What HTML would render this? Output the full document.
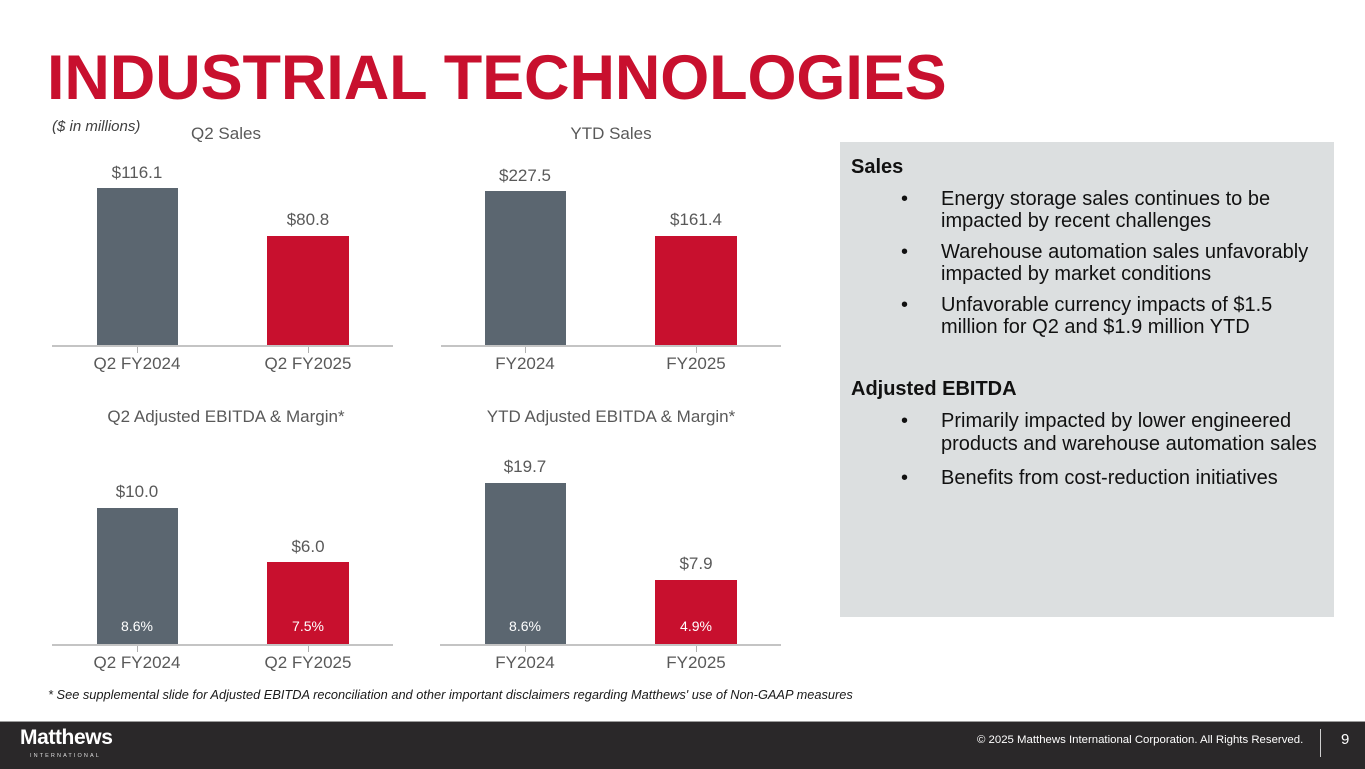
<!DOCTYPE html>
<html>
<head>
<meta charset="utf-8">
<style>
  html,body{margin:0;padding:0;}
  body{width:1365px;height:769px;position:relative;overflow:hidden;background:#fff;font-family:"Liberation Sans",Arial,sans-serif;}
  .a{position:absolute;}
  .t{position:absolute;white-space:nowrap;text-align:center;}
  .title{position:absolute;left:47px;top:47px;font-size:63px;line-height:62px;font-weight:bold;color:#C8102E;white-space:nowrap;letter-spacing:-0.1px;}
  .ct{font-size:17px;line-height:20px;color:#595959;width:300px;}
  .val{font-size:17px;line-height:20px;color:#595959;width:120px;}
  .xl{font-size:17px;line-height:20px;color:#595959;width:140px;}
  .pct{font-size:14px;line-height:18px;color:#fff;width:80px;}
  .bar{position:absolute;}
  .g{background:#5B6670;}
  .r{background:#C8102E;}
  .axis{position:absolute;height:2px;background:#C4C4C4;}
  .tick{position:absolute;width:1px;height:6px;background:#B0B0B0;}
  .panel{position:absolute;left:840px;top:142px;width:494px;height:475px;background:#DCDFE0;}
  .hd{position:absolute;left:851px;font-size:20px;font-weight:bold;line-height:22px;color:#111;white-space:nowrap;}
  .bl{position:absolute;left:901px;font-size:20px;line-height:22px;color:#111;white-space:nowrap;}
  .bl .d{position:absolute;left:0;top:0;}
  .bl .tx{position:absolute;left:40px;top:0;}
</style>
</head>
<body>
<div class="title">INDUSTRIAL TECHNOLOGIES</div>
<div class="a" style="left:52px;top:117px;font-size:15px;line-height:20px;font-style:italic;color:#404040;white-space:nowrap;">($ in millions)</div>

<!-- Top left: Q2 Sales -->
<div class="t ct" style="left:76px;top:124px;">Q2 Sales</div>
<div class="bar g" style="left:97px;top:188px;width:81px;height:158px;"></div>
<div class="bar r" style="left:267px;top:236px;width:82px;height:110px;"></div>
<div class="axis" style="left:52px;top:345px;width:341px;"></div>
<div class="tick" style="left:137px;top:347px;"></div>
<div class="tick" style="left:308px;top:347px;"></div>
<div class="t val" style="left:77px;top:163px;">$116.1</div>
<div class="t val" style="left:248px;top:210px;">$80.8</div>
<div class="t xl" style="left:67px;top:354px;">Q2 FY2024</div>
<div class="t xl" style="left:238px;top:354px;">Q2 FY2025</div>

<!-- Top right: YTD Sales -->
<div class="t ct" style="left:461px;top:124px;">YTD Sales</div>
<div class="bar g" style="left:485px;top:191px;width:81px;height:155px;"></div>
<div class="bar r" style="left:655px;top:236px;width:82px;height:110px;"></div>
<div class="axis" style="left:441px;top:345px;width:340px;"></div>
<div class="tick" style="left:525px;top:347px;"></div>
<div class="tick" style="left:696px;top:347px;"></div>
<div class="t val" style="left:465px;top:166px;">$227.5</div>
<div class="t val" style="left:636px;top:210px;">$161.4</div>
<div class="t xl" style="left:455px;top:354px;">FY2024</div>
<div class="t xl" style="left:626px;top:354px;">FY2025</div>

<!-- Bottom left: Q2 EBITDA -->
<div class="t ct" style="left:76px;top:407px;">Q2 Adjusted EBITDA &amp; Margin*</div>
<div class="bar g" style="left:97px;top:508px;width:81px;height:136px;"></div>
<div class="bar r" style="left:267px;top:562px;width:82px;height:82px;"></div>
<div class="axis" style="left:52px;top:644px;width:341px;"></div>
<div class="tick" style="left:137px;top:646px;"></div>
<div class="tick" style="left:308px;top:646px;"></div>
<div class="t val" style="left:77px;top:482px;">$10.0</div>
<div class="t val" style="left:248px;top:537px;">$6.0</div>
<div class="t pct" style="left:97px;top:617px;">8.6%</div>
<div class="t pct" style="left:268px;top:617px;">7.5%</div>
<div class="t xl" style="left:67px;top:653px;">Q2 FY2024</div>
<div class="t xl" style="left:238px;top:653px;">Q2 FY2025</div>

<!-- Bottom right: YTD EBITDA -->
<div class="t ct" style="left:461px;top:407px;">YTD Adjusted EBITDA &amp; Margin*</div>
<div class="bar g" style="left:485px;top:483px;width:81px;height:161px;"></div>
<div class="bar r" style="left:655px;top:580px;width:82px;height:64px;"></div>
<div class="axis" style="left:440px;top:644px;width:341px;"></div>
<div class="tick" style="left:525px;top:646px;"></div>
<div class="tick" style="left:696px;top:646px;"></div>
<div class="t val" style="left:465px;top:457px;">$19.7</div>
<div class="t val" style="left:636px;top:554px;">$7.9</div>
<div class="t pct" style="left:485px;top:617px;">8.6%</div>
<div class="t pct" style="left:656px;top:617px;">4.9%</div>
<div class="t xl" style="left:455px;top:653px;">FY2024</div>
<div class="t xl" style="left:626px;top:653px;">FY2025</div>

<!-- Right panel -->
<div class="panel"></div>
<div class="hd" style="top:156px;">Sales</div>
<div class="bl" style="top:188px;"><span class="d">•</span><span class="tx">Energy storage sales continues to be<br>impacted by recent challenges</span></div>
<div class="bl" style="top:241px;"><span class="d">•</span><span class="tx">Warehouse automation sales unfavorably<br>impacted by market conditions</span></div>
<div class="bl" style="top:294px;"><span class="d">•</span><span class="tx">Unfavorable currency impacts of $1.5<br>million for Q2 and $1.9 million YTD</span></div>
<div class="hd" style="top:378px;">Adjusted EBITDA</div>
<div class="bl" style="top:410px;line-height:23px;"><span class="d">•</span><span class="tx">Primarily impacted by lower engineered<br>products and warehouse automation sales</span></div>
<div class="bl" style="top:467px;"><span class="d">•</span><span class="tx">Benefits from cost-reduction initiatives</span></div>

<!-- Footnote -->
<div class="a" style="left:48px;top:687px;font-size:12.8px;line-height:16px;font-style:italic;color:#1a1a1a;white-space:nowrap;">* See supplemental slide for Adjusted EBITDA reconciliation and other important disclaimers regarding Matthews' use of Non-GAAP measures</div>

<!-- Footer -->
<div class="a" style="left:0;top:721px;width:1365px;height:48px;background:#2A2829;"></div>
<div class="a" style="left:0;top:721px;width:1365px;height:1px;background:#9C9C9C;"></div>
<div class="a" style="left:20px;top:726px;font-size:21px;line-height:24px;font-weight:bold;color:#fff;letter-spacing:-0.4px;white-space:nowrap;">Matthews</div>
<div class="a" style="left:30px;top:752px;font-size:5.5px;line-height:8px;color:#ddd;letter-spacing:2.1px;white-space:nowrap;">INTERNATIONAL</div>
<div class="a" style="left:977px;top:733px;font-size:11.4px;line-height:14px;color:#fff;white-space:nowrap;">© 2025 Matthews International Corporation. All Rights Reserved.</div>
<div class="a" style="left:1320px;top:729px;width:1px;height:28px;background:#cfcfcf;"></div>
<div class="a" style="left:1341px;top:731px;font-size:15px;line-height:18px;color:#fff;">9</div>
</body>
</html>
